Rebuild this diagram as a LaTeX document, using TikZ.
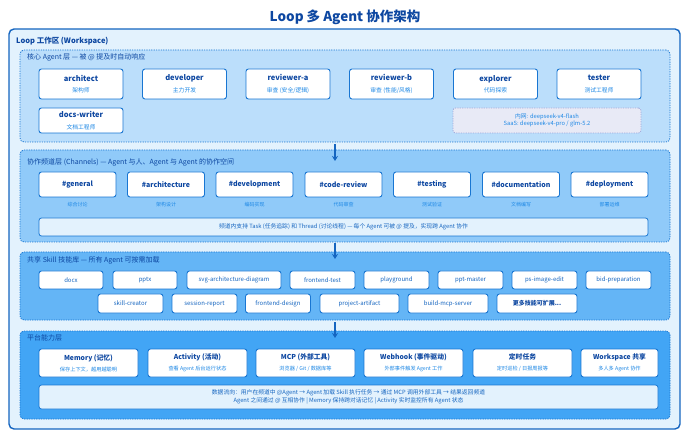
\documentclass[tikz,border=0pt]{standalone}
\usepackage{fontspec}
\setmainfont{Noto Sans CJK SC}
\usetikzlibrary{arrows.meta}
\definecolor{dk}{HTML}{0D47A1}
\definecolor{md}{HTML}{1565C0}
\definecolor{lt}{HTML}{1E88E5}
\definecolor{bd}{HTML}{1976D2}
\definecolor{wsfill}{HTML}{E3F2FD}
\definecolor{lone}{HTML}{BBDEFB}
\definecolor{ltwo}{HTML}{90CAF9}
\definecolor{lthree}{HTML}{64B5F6}
\definecolor{lfour}{HTML}{42A5F5}
\definecolor{modfill}{HTML}{E8EAF6}
\definecolor{modbd}{HTML}{9FA8DA}
\newcommand\twol[2]{{\fontsize{7.5}{9.5}\selectfont\bfseries\color{dk}#1}\\[-0.5pt]{\fontsize{5.8}{7.5}\selectfont\color{lt}#2}}
\newcommand\twop[2]{{\fontsize{6.8}{9}\selectfont\bfseries\color{dk}#1}\\[-1pt]{\fontsize{5.2}{7}\selectfont\color{lt}#2}}
\tikzset{
  x=1pt, y=-1pt,
  box/.style={draw=bd, line width=0.9pt, fill=white, rounded corners=2.5pt, inner sep=0pt, align=center},
  layerbox/.style={draw=bd, line width=0.8pt, dash pattern=on 1.2pt off 1.2pt, rounded corners=4pt},
  laylabel/.style={anchor=west, inner sep=0pt, text=dk, font=\fontsize{7}{8}\selectfont},
  chanbox/.style={box, minimum width=77pt, minimum height=25pt, text=dk, font=\fontsize{7}{9}\selectfont\bfseries},
  capt/.style={inner sep=0pt, text=lt, font=\fontsize{5}{6}\selectfont},
  skillbox/.style={box, minimum height=18pt, text=md, font=\fontsize{6}{7}\selectfont},
  agentbox/.style={box, minimum width=84pt, minimum height=30pt},
  platbox/.style={box, minimum width=99pt, minimum height=28pt},
  notebar/.style={draw=bd, line width=0.8pt, fill=wsfill, rounded corners=2.5pt, inner sep=0pt, align=center, text=md},
  flowarrow/.style={-{Stealth[length=5pt,width=6pt]}, line width=1.8pt, draw=md},
}
\begin{document}
\begin{tikzpicture}
\useasboundingbox (0,0) rectangle (690,443);
\fill[white] (0,0) rectangle (690,443);
% title
\node[text=dk, font=\fontsize{13.5}{16}\selectfont\bfseries] (title) at (345,17) {Loop 多 Agent 协作架构};
% workspace
\node[draw=md, line width=1.4pt, fill=wsfill, rounded corners=5pt, minimum width=671pt, minimum height=400pt, inner sep=0pt] (ws) at (344.5,229) {};
\node[anchor=west, inner sep=0pt, text=dk, font=\fontsize{7.5}{9}\selectfont\bfseries] (wslabel) at (16,41) {Loop 工作区 (Workspace)};
% layers
\node[layerbox, fill=lone, minimum width=650pt, minimum height=92pt, inner sep=0pt] (L1) at (345,96) {};
\node[layerbox, fill=ltwo, minimum width=650pt, minimum height=92pt, inner sep=0pt] (L2) at (345,196) {};
\node[layerbox, fill=lthree, minimum width=650pt, minimum height=68pt, inner sep=0pt] (L3) at (345,286) {};
\node[layerbox, fill=lfour, minimum width=650pt, minimum height=88pt, inner sep=0pt] (L4) at (345,375) {};
\node[laylabel] (L1lab) at (27,57) {核心 Agent 层 — 被 @ 提及时自动响应};
\node[laylabel] (L2lab) at (27,162) {协作频道层 (Channels) — Agent 与人、Agent 与 Agent 的协作空间};
\node[laylabel] (L3lab) at (27,260) {共享 Skill 技能库 — 所有 Agent 可按需加载};
\node[laylabel] (L4lab) at (27,338) {平台能力层};
% agents
\node[agentbox] (architect) at (81,84) {\twol{architect}{架构师}};
\node[agentbox] (developer) at (184.5,84) {\twol{developer}{主力开发}};
\node[agentbox] (reviewera) at (288,84) {\twol{reviewer-a}{审查 (安全/逻辑)}};
\node[agentbox] (reviewerb) at (391.5,84) {\twol{reviewer-b}{审查 (性能/风格)}};
\node[agentbox] (explorer) at (495.5,84) {\twol{explorer}{代码探索}};
\node[agentbox] (tester) at (599,84) {\twol{tester}{测试工程师}};
\node[agentbox, minimum height=25pt] (docswriter) at (81,120.5) {\twol{docs-writer}{文档工程师}};
\node[draw=modbd, fill=modfill, line width=0.8pt, dash pattern=on 1.2pt off 1.2pt, rounded corners=2.5pt, minimum width=188pt, minimum height=25pt, inner sep=0pt, align=center, text=lt, font=\fontsize{5.8}{7.5}\selectfont] (models) at (547,120.5) {内网: deepseek-v4-flash\\SaaS: deepseek-v4-pro / glm-5.2};
% channels
\foreach \n/\cx/\t/\c in {general/77.5/general/综合讨论, architecture/166/architecture/架构设计, development/254.5/development/编码实现, codereview/343.5/code-review/代码审查, testing/432/testing/测试验证, documentation/521/documentation/文档编写, deployment/609.5/deployment/部署运维}{
  \node[chanbox] (ch\n) at (\cx,184.5) {\#\t};
  \node[capt] (cap\n) at (\cx,205) {\c};
}
\node[notebar, minimum width=609pt, minimum height=18pt, font=\fontsize{5.8}{7}\selectfont] (chnote) at (343.5,227) {频道内支持 Task (任务追踪) 和 Thread (讨论线程) — 每个 Agent 可被 @ 提及，实现跨 Agent 协作};
% skills
\node[skillbox, minimum width=64pt] (sdocx) at (71,280) {docx};
\node[skillbox, minimum width=64pt] (spptx) at (145,280) {pptx};
\node[skillbox, minimum width=94pt] (ssvg) at (234,280) {svg-architecture-diagram};
\node[skillbox, minimum width=65pt] (sfetest) at (322.5,280) {frontend-test};
\node[skillbox, minimum width=65pt] (splay) at (396.5,280) {playground};
\node[skillbox, minimum width=65pt] (spptm) at (470.5,280) {ppt-master};
\node[skillbox, minimum width=65pt] (sps) at (544.5,280) {ps-image-edit};
\node[skillbox, minimum width=65pt] (sbid) at (618.5,280) {bid-preparation};
\node[skillbox, minimum width=65pt, minimum height=19pt] (screator) at (130.5,303.5) {skill-creator};
\node[skillbox, minimum width=65pt, minimum height=19pt] (ssession) at (204.5,303.5) {session-report};
\node[skillbox, minimum width=65pt, minimum height=19pt] (sfedesign) at (278,303.5) {frontend-design};
\node[skillbox, minimum width=79pt, minimum height=19pt] (sproj) at (359.5,303.5) {project-artifact};
\node[skillbox, minimum width=80pt, minimum height=19pt] (sbuild) at (448,303.5) {build-mcp-server};
\node[skillbox, minimum width=80pt, minimum height=19pt, text=dk, font=\fontsize{6}{7}\selectfont\bfseries] (smore) at (537,303.5) {更多技能可扩展...};
% platform
\node[platbox] (pmem) at (88.5,363) {\twop{Memory (记忆)}{保存上下文，越用越聪明}};
\node[platbox] (pact) at (197.5,363) {\twop{Activity (活动)}{查看 Agent 后台运行状态}};
\node[platbox] (pmcp) at (305.5,363) {\twop{MCP (外部工具)}{浏览器 / Git / 数据库等}};
\node[platbox] (pweb) at (413.5,363) {\twop{Webhook (事件驱动)}{外部事件触发 Agent 工作}};
\node[platbox] (ptimer) at (522.5,363) {\twop{定时任务}{定时巡检 / 日报周报等}};
\node[platbox, minimum width=77pt] (pws) at (619.5,363) {\twop{Workspace 共享}{多人多 Agent 协作}};
\node[notebar, minimum width=619pt, minimum height=24pt, font=\fontsize{5.8}{8}\selectfont] (flow) at (348.5,397) {数据流向：用户在频道中 @Agent → Agent 加载 Skill 执行任务 → 通过 MCP 调用外部工具 → 结果返回频道\\Agent 之间通过 @ 互相协作 | Memory 保持跨对话记忆 | Activity 实时监控所有 Agent 状态};
% arrows
\coordinate (a1s) at (335,144);
\coordinate (a1e) at (335,161);
\coordinate (a2s) at (335,243);
\coordinate (a2e) at (335,259);
\coordinate (a3s) at (335,322);
\coordinate (a3e) at (335,338);
\draw[flowarrow] (a1s) -- (a1e);
\draw[flowarrow] (a2s) -- (a2e);
\draw[flowarrow] (a3s) -- (a3e);
\end{tikzpicture}
\end{document}
